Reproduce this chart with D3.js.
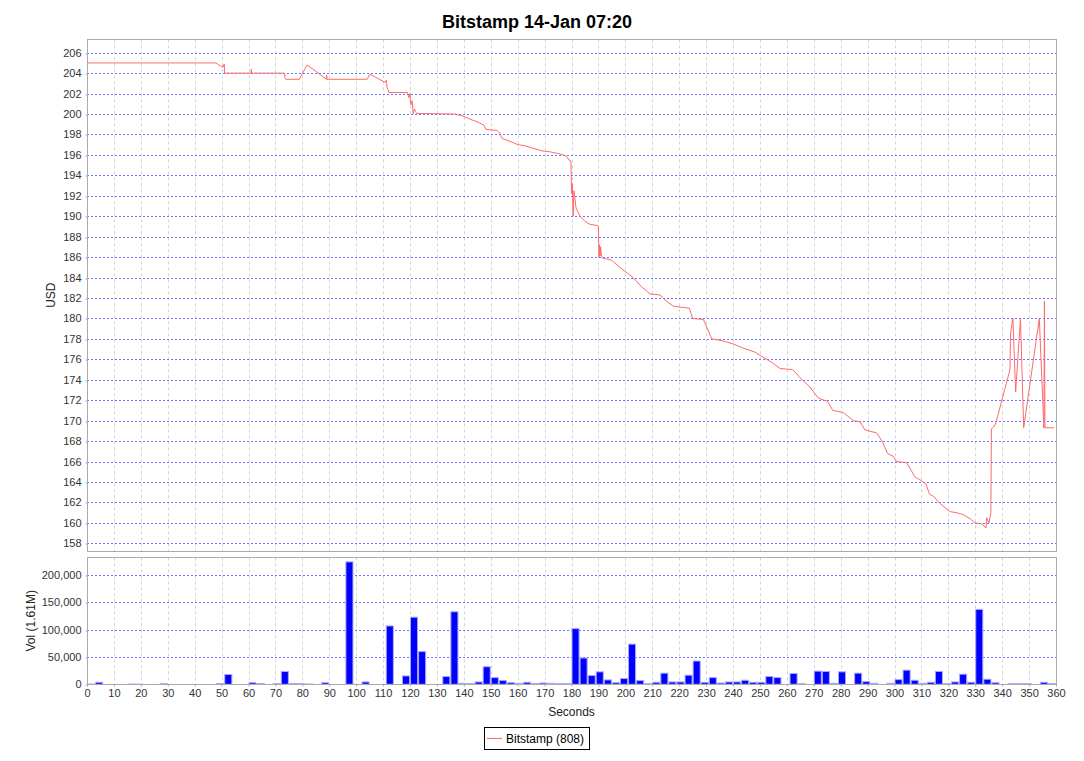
<!DOCTYPE html>
<html><head><meta charset="utf-8">
<script src="https://cdn.jsdelivr.net/npm/d3@7"></script>
<style>body{margin:0;background:#fff}svg{display:block}text{font-family:"Liberation Sans",Arial,sans-serif}</style>
</head><body><svg id="c" width="1084" height="761"></svg>
<script>
const chartTitle = "Bitstamp 14-Jan 07:20";
const legendLabel = "Bitstamp (808)";
const priceAxisLabel = "USD";
const volumeAxisLabel = "Vol (1.61M)";
const timeAxisLabel = "Seconds";

const tradeTimes = [0,47.9,49.5,50.6,51.0,51.1,51.6,61.0,61.05,61.1,73.4,73.6,73.8,78.9,81.8,89.0,89.05,89.1,104.1,105.1,110.7,111.2,111.5,112.2,119.0,119.6,120.0,120.3,120.8,121.2,121.6,122.5,136.7,139.7,142.3,145.3,147.5,148.2,152.3,153.4,154.2,156.4,160.1,162.7,166.4,169.0,172.0,175.7,178.0,179.1,179.8,180.0,180.3,180.6,180.9,181.7,183.2,185.0,186.9,189.5,190.0,190.2,190.4,190.6,190.8,191.2,191.8,194.9,198.0,202.9,206.0,209.2,212.9,214.7,217.8,223.8,225.0,229.0,232.1,236.4,240.1,243.8,248.2,250.6,254.4,257.5,262.2,264.9,268.6,271.7,275.1,277.1,281.0,284.7,287.2,289.0,293.4,295.6,297.4,299.6,300.8,304.5,307.6,310.1,311.7,313.0,314.5,316.9,320.6,323.1,325.6,328.1,329.9,332.4,334.0,334.2,335.1,335.8,336.0,336.9,337.7,342.9,343.1,344.0,345.0,346.8,348.0,353.8,355.5,355.7,355.9,359.2];
const tradePrices = [205.0,205.0,204.7,204.6,204.9,204.0,204.0,204.0,204.4,204.0,204.0,203.5,203.4,203.4,204.8,203.4,203.8,203.4,203.4,203.9,203.1,203.3,202.6,202.1,202.1,201.6,202.0,200.9,201.3,200.0,200.5,200.05,200.0,199.8,199.5,199.2,198.9,198.5,198.4,198.1,197.6,197.4,197.0,196.9,196.6,196.4,196.3,196.1,195.9,195.5,195.4,192.2,193.2,190.0,192.5,190.8,190.0,189.5,189.2,189.1,189.0,186.0,187.2,186.1,187.0,186.0,185.9,185.7,185.0,184.0,183.1,182.4,182.3,181.8,181.2,181.0,180.0,179.9,178.0,177.8,177.5,177.1,176.7,176.3,175.7,175.1,175.0,174.2,173.3,172.2,171.9,171.0,170.8,170.0,169.9,169.1,168.8,167.9,166.8,166.5,166.0,165.9,164.5,164.1,163.8,162.8,162.6,161.9,161.1,161.0,160.8,160.4,160.0,159.9,159.5,160.5,160.0,161.0,169.2,169.4,169.8,175.0,178.5,180.0,172.8,180.0,169.3,180.0,169.3,181.7,169.3,169.3];

const binSeconds = 3;
const binVolumes = [500,3700,0,0,0,500,300,0,0,1000,0,0,0,0,0,0,1500,17900,0,0,3000,1500,0,1000,23500,1500,1000,500,0,3000,0,0,224000,0,4300,0,0,106800,0,15300,122800,59900,0,0,14200,132700,1800,1000,4300,32100,12300,6800,3000,1800,3700,1200,2400,1800,1000,1000,101900,48100,16000,22800,8000,3000,10500,73500,6800,1000,3700,20400,4300,4300,16700,42600,3700,12300,2400,4300,4300,7400,3700,3700,14200,12300,0,19800,1000,0,24100,23500,1800,22800,0,20400,4900,1800,0,1800,8600,25900,7400,1800,3700,23500,1000,4300,18500,3700,137000,9300,3000,0,1000,1000,1000,0,3700,1000];

const priceTicks = d3.range(158, 207, 2);
const volumeTicks = [0, 50000, 100000, 150000, 200000];
const secondTicks = d3.range(0, 361, 10);

const svg = d3.select("#c");
const L = 87, R = 1056;
const pTop = 39.3, pBot = 551, vTop = 557.3, vBot = 684.3;
const x = d3.scaleLinear().domain([0, 360]).range([L, R]);
const yP = d3.scaleLinear().domain([157.25, 207.31]).range([pBot, pTop]);
const yV = d3.scaleLinear().domain([0, 232388]).range([vBot, vTop]);
const px = v => Math.round(v) + 0.5;
const border = "#aaaaaa";

function panel(top, bot, yScale, ticks, fmt) {
  const g = svg.append("g");
  // vertical grid
  g.selectAll(".vg").data(secondTicks.filter(d => d > 0 && d < 360)).enter().append("line")
    .attr("x1", d => px(x(d))).attr("x2", d => px(x(d)))
    .attr("y1", top).attr("y2", bot)
    .attr("stroke", "#d4d4d4").attr("stroke-dasharray", "3,3");
  // horizontal grid
  g.selectAll(".hg").data(ticks.filter(d => yScale(d) > top + 1 && yScale(d) < bot - 1)).enter().append("line")
    .attr("x1", L).attr("x2", R)
    .attr("y1", d => px(yScale(d))).attr("y2", d => px(yScale(d)))
    .attr("stroke", "#7070ff").attr("stroke-dasharray", "2,2");
  // y axis
  const ax = g.append("g").attr("transform", `translate(${px(L)},0)`)
    .call(d3.axisLeft(yScale).tickValues(ticks).tickFormat(fmt).tickSize(2).tickPadding(4));
  ax.select(".domain").remove();
  ax.selectAll(".tick line").attr("stroke", border).attr("transform", d => `translate(0,${px(yScale(d)) - yScale(d)})`);
  ax.selectAll("text").attr("font-size", 11).attr("fill", "#333").attr("font-family", '"Liberation Sans",Arial,sans-serif');
  return g;
}

panel(pTop, pBot, yP, priceTicks, d3.format("d"));
panel(vTop, vBot, yV, volumeTicks, d3.format(","));

// price line
svg.append("clipPath").attr("id", "clipP").append("rect")
  .attr("x", L).attr("y", pTop).attr("width", R - L).attr("height", pBot - pTop);
const idx = d3.range(tradeTimes.length);
svg.append("path")
  .attr("clip-path", "url(#clipP)")
  .attr("d", d3.line().x(i => x(tradeTimes[i])).y(i => yP(tradePrices[i]))(idx))
  .attr("fill", "none").attr("stroke", "rgb(255,105,105)").attr("stroke-width", 1);

// volume bars
svg.append("g").selectAll("rect").data(binVolumes.map((v, i) => ({v, i})).filter(d => d.v > 0)).enter().append("rect")
  .attr("x", d => x(d.i * binSeconds) + 0.5)
  .attr("width", x(binSeconds) - x(0) - 1)
  .attr("y", d => yV(d.v))
  .attr("height", d => Math.max(0.3, yV(0) - yV(d.v)))
  .attr("fill", "#0000ff").attr("stroke", "#a8a8ff").attr("stroke-width", 1);

// panel borders
[[pTop, pBot], [vTop, vBot]].forEach(([t, b]) => {
  svg.append("rect").attr("x", px(L)).attr("y", px(t)).attr("width", Math.round(R - L)).attr("height", Math.round(b - t))
    .attr("fill", "none").attr("stroke", border);
});

// x axis
const xa = svg.append("g").attr("transform", `translate(0,${px(vBot)})`)
  .call(d3.axisBottom(x).tickValues(secondTicks).tickFormat(d3.format("d")).tickSize(2).tickPadding(3));
xa.select(".domain").remove();
xa.selectAll(".tick line").attr("stroke", border);
xa.selectAll("text").attr("font-size", 11).attr("fill", "#333").attr("font-family", '"Liberation Sans",Arial,sans-serif');

// axis labels
svg.append("text").attr("transform", `translate(55,${(pTop + pBot) / 2}) rotate(-90)`)
  .attr("text-anchor", "middle").attr("font-size", 12).attr("fill", "#222").text(priceAxisLabel);
svg.append("text").attr("transform", `translate(35,${(vTop + vBot) / 2}) rotate(-90)`)
  .attr("text-anchor", "middle").attr("font-size", 12).attr("fill", "#222").text(volumeAxisLabel);
svg.append("text").attr("x", (L + R) / 2).attr("y", 716)
  .attr("text-anchor", "middle").attr("font-size", 12).attr("fill", "#222").text(timeAxisLabel);

// title
svg.append("text").attr("x", 537).attr("y", 28).attr("text-anchor", "middle")
  .attr("font-size", 18).attr("font-weight", "bold").attr("fill", "#000").text(chartTitle);

// legend
const lg = svg.append("g");
lg.append("rect").attr("x", 484.5).attr("y", 727.5).attr("width", 105).attr("height", 22)
  .attr("fill", "#fff").attr("stroke", "#000");
lg.append("line").attr("x1", 487).attr("x2", 502).attr("y1", 738.5).attr("y2", 738.5)
  .attr("stroke", "rgb(255,105,105)");
lg.append("text").attr("x", 506).attr("y", 743).attr("font-size", 12).attr("fill", "#000").text(legendLabel);
</script></body></html>
